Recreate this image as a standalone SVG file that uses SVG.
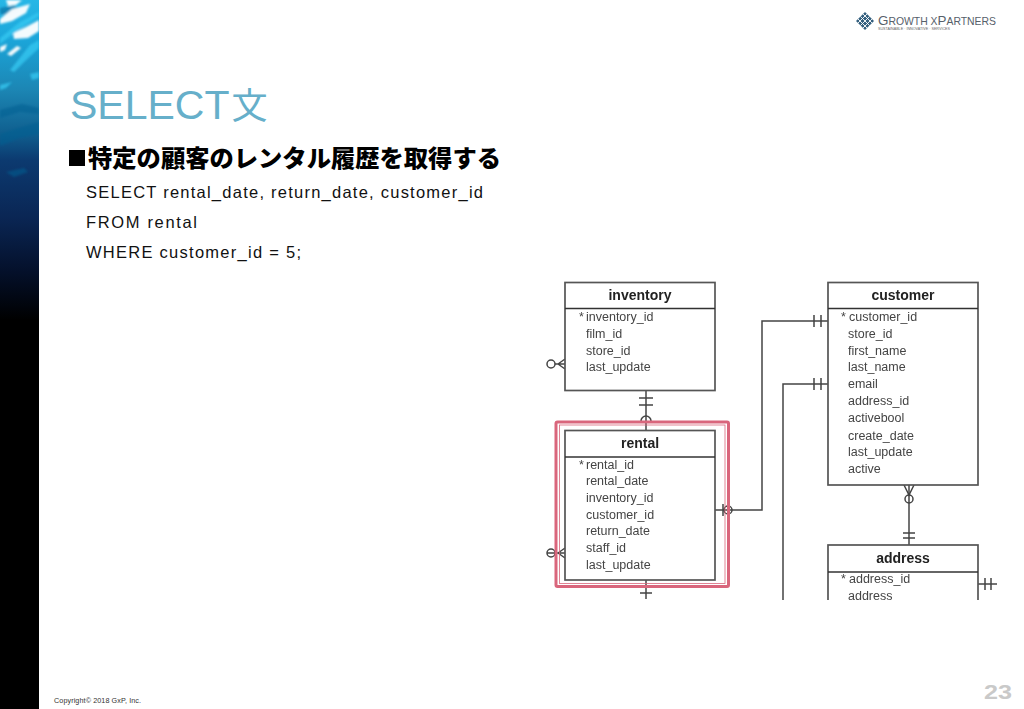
<svg xmlns="http://www.w3.org/2000/svg" width="1024" height="709" viewBox="0 0 1024 709">
<style>
text{font-family:"Liberation Sans",Arial,sans-serif}
.jp{font-family:"Noto Sans CJK JP","Liberation Sans",sans-serif}
.sql{font-size:16.500px;fill:#111}
.box{fill:#fff;stroke:#555;stroke-width:1.7}
.hl{stroke:#333;stroke-width:1.3;fill:none}
.ttl{font-size:14px;font-weight:bold;fill:#222;text-anchor:middle}
.col{font-size:12.500px;fill:#444}
.con{fill:none;stroke:#444;stroke-width:1.5}
.frame{fill:none;stroke:#d9667c}
.streakw{fill:#fff;opacity:.95}
.streakc{fill:#35c8f2;opacity:.75}
.streakd{fill:#0b5f92;opacity:.55}
</style>
<defs>
<linearGradient id="sea" x1="0" y1="0" x2="0" y2="1">
<stop offset="0" stop-color="#27b7e6"/>
<stop offset=".12" stop-color="#1ba6da"/>
<stop offset=".28" stop-color="#1c86b4"/>
<stop offset=".42" stop-color="#0f5e8e"/>
<stop offset=".5" stop-color="#0c3a70"/>
<stop offset=".68" stop-color="#0a2654"/>
<stop offset=".85" stop-color="#04102a"/>
<stop offset="1" stop-color="#000"/>
</linearGradient>
<clipPath id="erd"><rect x="540" y="270" width="470" height="330"/></clipPath>
<clipPath id="side"><rect width="39" height="320"/></clipPath>
<filter id="soft" x="-20%" y="-20%" width="140%" height="140%"><feGaussianBlur stdDeviation="1"/></filter>
<filter id="soft2" x="-5%" y="-5%" width="110%" height="110%"><feGaussianBlur stdDeviation=".35"/></filter>
</defs>
<rect width="1024" height="709" fill="#fff"/>
<g id="sidebar">
<rect x="0" y="0" width="39" height="709" fill="#000"/>
<rect x="0" y="0" width="39" height="320" fill="url(#sea)"/>
<g clip-path="url(#side)"><g filter="url(#soft)">
<path class="streakd" d="M0 8L14 5 20 10 8 15 0 14Z"/>
<path class="streakw" d="M6 0H22L16 5 8 6Z"/>
<path class="streakw" d="M0 19L12 9 30 4 26 13 12 21 0 24Z"/>
<path class="streakw" d="M13 33L26 27 39 20V31L28 38 14 39Z"/>
<path class="streakw" d="M0 47L7 44 5 50 0 52Z"/>
<path class="streakw" d="M7 54L17 46 21 48 11 56Z"/>
<path class="streakc" d="M0 38L20 22 39 12V16L18 30 0 44Z"/>
<path class="streakc" d="M10 70L30 45 39 40V48L24 62 14 72Z"/>
<path class="streakc" d="M0 85L12 82 6 88 0 90Z" opacity=".5"/>
<path class="streakc" d="M30 74L39 72V78L32 80Z" opacity=".5"/>
<path class="streakd" d="M0 110L22 104 39 108V114L20 112 0 118Z"/>
<path class="streakd" d="M0 134L18 128 39 122V134L20 138 0 146Z"/>
<path class="streakd" d="M6 172L24 168 28 172 14 177Z" opacity=".4"/>
</g></g>
</g>
<g id="logo">
<path d="M865 12L874 21 865 30 856 21Z" fill="#35607f"/>
<g fill="none" stroke="#fff" stroke-width=".9">
<path d="M860.500 16.500L869.500 25.500M863 14L872 23M858 19L867 28"/>
<path d="M869.500 16.500L860.500 25.500M867 14L858 23M872 19L863 28"/>
</g>
<text x="878" y="24.500" font-size="13.500" fill="#56606a" textLength="118" lengthAdjust="spacingAndGlyphs">G<tspan font-size="10.500">ROWTH X</tspan>P<tspan font-size="10.500">ARTNERS</tspan></text>
<text x="878" y="29.500" font-size="3.800" fill="#666" textLength="72" lengthAdjust="spacingAndGlyphs">SUSTAINABLE · INNOVATIVE · SERVICES</text>
</g>
<g id="title"><text x="70" y="119" font-size="41" fill="#66afca">SELECT<tspan class="jp" font-size="36" dx="2">文</tspan></text></g>
<g id="heading">
<rect x="69" y="150" width="16" height="16" fill="#000"/>
<text class="jp" x="88" y="167" font-size="23.500" font-weight="900" fill="#000" textLength="413" lengthAdjust="spacingAndGlyphs">特定の顧客のレンタル履歴を取得する</text>
</g>
<g id="sql">
<text class="sql" x="86" y="197.500" textLength="397">SELECT rental_date, return_date, customer_id</text>
<text class="sql" x="86" y="228" textLength="111">FROM rental</text>
<text class="sql" x="86" y="258" textLength="215">WHERE customer_id = 5;</text>
</g>
<g clip-path="url(#erd)">
<g filter="url(#soft2)">
<g id="connectors">
<path class="con" d="M715 510H762V321H828"/>
<path class="con" d="M783 600V384H828"/>
<path class="con" d="M909 485V545"/>
<path class="con" d="M978 584H997"/>
<path class="con" d="M646 391V430"/>
<path class="con" d="M646 580V599"/>
<path class="con" d="M814 315V327M821 315V327M814 378V390M821 378V390"/>
<path class="con" d="M903 533H915M903 538H915"/>
<path class="con" d="M985 578V590M991 578V590"/>
<path class="con" d="M639 398H653M639 405H653M640 593H652"/>
<path class="con" d="M641 421A5 5 0 0 1 651 421"/>
<path class="con" d="M723 504V516" stroke-width="2.400"/>
<circle class="con" cx="728" cy="510" r="4"/>
<circle class="con" cx="909" cy="499" r="4" fill="#fff"/>
<path class="con" d="M904 485L909 495 914 485"/>
<circle class="con" cx="551" cy="364" r="4" fill="#fff"/>
<path class="con" d="M555 364H565M558 364L565 359M558 364L565 369"/>
<circle class="con" cx="551" cy="553" r="4" fill="#fff"/>
<path class="con" d="M547 553H565M558 553L565 548M558 553L565 558"/>
</g>
<g id="inventory">
<rect class="box" x="565" y="282.500" width="150" height="108"/>
<path class="hl" d="M565 308.500H715"/>
<text class="ttl" x="640" y="300">inventory</text>
<text class="col" x="579" y="321">*</text>
<text class="col" x="586" y="321">inventory_id</text>
<text class="col" x="586" y="338">film_id</text>
<text class="col" x="586" y="355">store_id</text>
<text class="col" x="586" y="371">last_update</text>
</g>
<g id="rental">
<rect class="box" x="565" y="430.500" width="150" height="149.500"/>
<path class="hl" d="M565 457H715"/>
<text class="ttl" x="640" y="448">rental</text>
<text class="col" x="579" y="469">*</text>
<text class="col" x="586" y="469">rental_id</text>
<text class="col" x="586" y="485">rental_date</text>
<text class="col" x="586" y="502">inventory_id</text>
<text class="col" x="586" y="519">customer_id</text>
<text class="col" x="586" y="535">return_date</text>
<text class="col" x="586" y="552">staff_id</text>
<text class="col" x="586" y="569">last_update</text>
</g>
<g id="rental-highlight">
<rect class="frame" x="556" y="422" width="172.500" height="164.500" rx="1.500" stroke-width="3"/>
<rect class="frame" x="559.500" y="425" width="165.500" height="158.500" stroke-width=".8"/>
</g>
<g id="customer">
<rect class="box" x="828" y="282.500" width="150" height="202.500"/>
<path class="hl" d="M828 308.500H978"/>
<text class="ttl" x="903" y="300">customer</text>
<text class="col" x="841" y="321">*</text>
<text class="col" x="849" y="321">customer_id</text>
<text class="col" x="848" y="338">store_id</text>
<text class="col" x="848" y="355">first_name</text>
<text class="col" x="848" y="371">last_name</text>
<text class="col" x="848" y="388">email</text>
<text class="col" x="848" y="405">address_id</text>
<text class="col" x="848" y="422">activebool</text>
<text class="col" x="848" y="440">create_date</text>
<text class="col" x="848" y="456">last_update</text>
<text class="col" x="848" y="473">active</text>
</g>
<g id="address">
<rect class="box" x="828" y="545" width="150" height="70"/>
<path class="hl" d="M828 572H978"/>
<text class="ttl" x="903" y="563">address</text>
<text class="col" x="841" y="583">*</text>
<text class="col" x="849" y="583">address_id</text>
<text class="col" x="848" y="600">address</text>
</g>
</g>
</g>
<g id="footer">
<text x="54" y="703" font-size="7.200" fill="#333" textLength="87">Copyright© 2018 GxP, Inc.</text>
<text x="984" y="699" font-size="19.500" font-weight="bold" fill="#c9c9c9" textLength="28" lengthAdjust="spacingAndGlyphs">23</text>
</g>
</svg>
